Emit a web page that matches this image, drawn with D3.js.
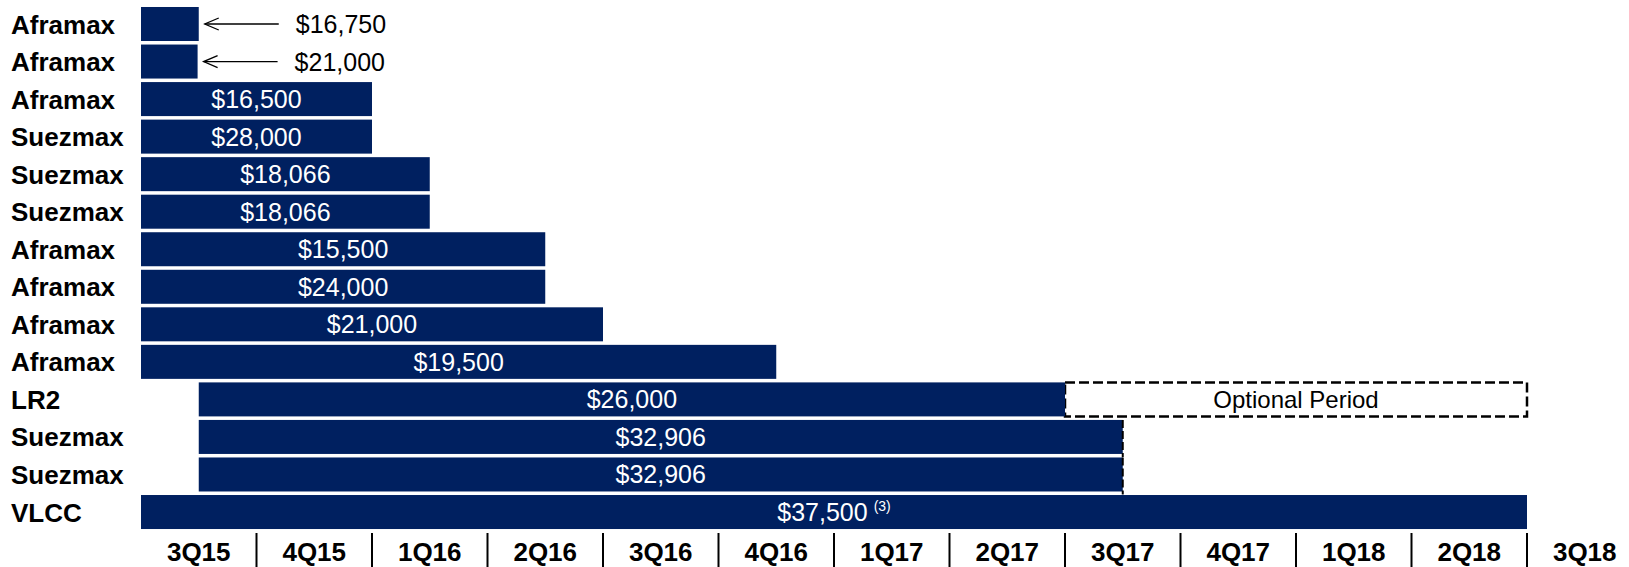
<!DOCTYPE html>
<html>
<head>
<meta charset="utf-8">
<script src="https://cdn.jsdelivr.net/npm/d3@7"></script>
<style>
  body { margin: 0; background: #fff; }
  text { font-family: Arial, "Liberation Sans", sans-serif; }
</style>
</head>
<body>
<div id="chart"></div>
<script>
const width = 1629;
const height = 567;

// one row per vessel, top to bottom
const vessels = ["Aframax", "Aframax", "Aframax", "Suezmax", "Suezmax", "Suezmax", "Aframax",
  "Aframax", "Aframax", "Aframax", "LR2", "Suezmax", "Suezmax", "VLCC"];
const rates = ["$16,750", "$21,000", "$16,500", "$28,000", "$18,066", "$18,066", "$15,500",
  "$24,000", "$21,000", "$19,500", "$26,000", "$32,906", "$32,906", "$37,500"];
const notes = ["", "", "", "", "", "", "", "", "", "", "", "", "", "(3)"];
// charter period, in quarters counted from start of 3Q15
const starts = [0, 0, 0, 0, 0, 0, 0, 0, 0, 0, 0.5, 0.5, 0.5, 0];
const ends = [0.5, 0.49, 2, 2, 2.5, 2.5, 3.5, 3.5, 4, 5.5, 8, 8.5, 8.5, 12];
const dashedEnd = [false, false, false, false, false, false, false, false, false, false, false, true, true, false];

// optional extension
const optionRows = [10];
const optionStarts = [8];
const optionEnds = [12];
const optionLabels = ["Optional Period"];

const quarters = ["3Q15", "4Q15", "1Q16", "2Q16", "3Q16", "4Q16", "1Q17", "2Q17",
  "3Q17", "4Q17", "1Q18", "2Q18", "3Q18"];

const navy = "#002060";

const svg = d3.select("#chart").append("svg")
  .attr("width", width)
  .attr("height", height);

const x = d3.scaleLinear()
  .domain([0, quarters.length])
  .range([141, 141 + quarters.length * 115.5]);

const y = d3.scaleBand()
  .domain(d3.range(vessels.length))
  .range([5.23, 5.23 + vessels.length * 37.54])
  .paddingInner(0.094)
  .paddingOuter(0.047);

const rows = vessels.map((v, i) => ({
  vessel: v, rate: rates[i], note: notes[i],
  start: starts[i], end: ends[i], dashed: dashedEnd[i], i
}));

// row labels
svg.append("g").selectAll("text")
  .data(rows)
  .join("text")
  .attr("x", 11)
  .attr("y", d => y(d.i) + y.bandwidth() / 2 + 9.5)
  .attr("font-size", "26px")
  .attr("font-weight", "bold")
  .attr("fill", "#000")
  .text(d => d.vessel);

// optional period boxes
const opts = optionRows.map((r, k) => ({ row: r, start: optionStarts[k], end: optionEnds[k], label: optionLabels[k] }));
const optG = svg.append("g");
optG.selectAll("rect")
  .data(opts)
  .join("rect")
  .attr("x", d => x(d.start))
  .attr("y", d => y(d.row))
  .attr("width", d => x(d.end) - x(d.start))
  .attr("height", y.bandwidth())
  .attr("fill", "#fff")
  .attr("stroke", "#000")
  .attr("stroke-width", 2.5)
  .attr("stroke-dasharray", "10,4");
optG.selectAll("text")
  .data(opts)
  .join("text")
  .attr("x", d => (x(d.start) + x(d.end)) / 2)
  .attr("y", d => y(d.row) + y.bandwidth() / 2 + 8.5)
  .attr("text-anchor", "middle")
  .attr("font-size", "24px")
  .attr("fill", "#000")
  .text(d => d.label);

// bars
svg.append("g").selectAll("rect")
  .data(rows)
  .join("rect")
  .attr("x", d => x(d.start))
  .attr("y", d => y(d.i))
  .attr("width", d => x(d.end) - x(d.start))
  .attr("height", y.bandwidth())
  .attr("fill", navy);

// dashed end marks
svg.append("g").selectAll("line")
  .data(rows.filter(d => d.dashed))
  .join("line")
  .attr("x1", d => x(d.end))
  .attr("x2", d => x(d.end))
  .attr("y1", d => y(d.i))
  .attr("y2", d => y(d.i) + y.bandwidth() + 3)
  .attr("stroke", "#000")
  .attr("stroke-width", 2)
  .attr("stroke-dasharray", "8,3");

// labels inside wide bars
const inside = rows.filter(d => x(d.end) - x(d.start) > 100);
const lbl = svg.append("g").selectAll("text")
  .data(inside)
  .join("text")
  .attr("x", d => (x(d.start) + x(d.end)) / 2)
  .attr("y", d => y(d.i) + y.bandwidth() / 2 + 9)
  .attr("text-anchor", "middle")
  .attr("font-size", "25px")
  .attr("fill", "#fff");
lbl.append("tspan").text(d => d.rate);
lbl.filter(d => d.note).append("tspan")
  .attr("font-size", "14px")
  .attr("dx", 6)
  .attr("dy", -10)
  .text(d => d.note);

// short bars get an arrow and outside label
const outside = rows.filter(d => x(d.end) - x(d.start) <= 100);
const outG = svg.append("g").selectAll("g")
  .data(outside)
  .join("g")
  .attr("transform", d => `translate(${x(d.end)},${y(d.i) + y.bandwidth() / 2})`);
outG.append("line")
  .attr("x1", 6).attr("x2", 80)
  .attr("y1", 0).attr("y2", 0)
  .attr("stroke", "#000")
  .attr("stroke-width", 1.3);
outG.append("path")
  .attr("d", "M20,-6 L6,0 L20,6")
  .attr("fill", "none")
  .attr("stroke", "#000")
  .attr("stroke-width", 1.3);
outG.append("text")
  .attr("x", 97)
  .attr("y", 9)
  .attr("font-size", "25px")
  .attr("fill", "#000")
  .text(d => d.rate);

// quarter axis
const axisG = svg.append("g");
axisG.selectAll("line")
  .data(d3.range(1, quarters.length))
  .join("line")
  .attr("x1", d => x(d))
  .attr("x2", d => x(d))
  .attr("y1", 533)
  .attr("y2", height)
  .attr("stroke", "#000")
  .attr("stroke-width", 2);
axisG.selectAll("text")
  .data(quarters)
  .join("text")
  .attr("x", (d, i) => x(i + 0.5))
  .attr("y", 561)
  .attr("text-anchor", "middle")
  .attr("font-size", "26px")
  .attr("font-weight", "bold")
  .attr("fill", "#000")
  .text(d => d);
</script>
</body>
</html>
